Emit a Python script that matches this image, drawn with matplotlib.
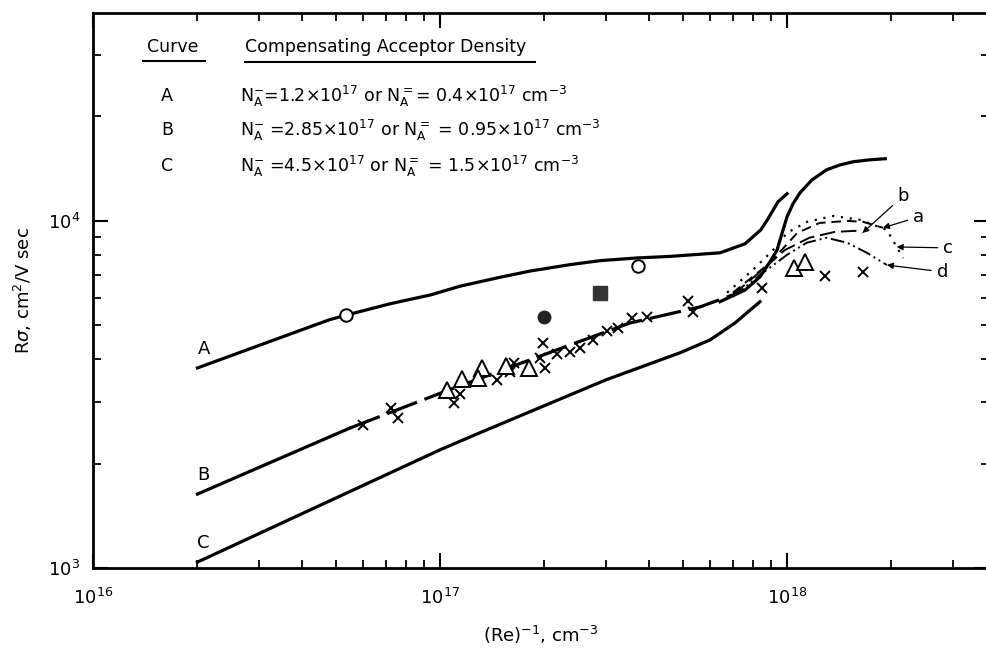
import numpy as np
import matplotlib
matplotlib.use('Agg')
import matplotlib.pyplot as plt

plt.rcParams['font.family'] = ['DejaVu Sans']
plt.rcParams['mathtext.fontset'] = 'dejavusans'

# curve A (solid)
A_x = [2.0e16, 4.8e16, 5.4e16, 7.18e16, 9.4e16, 1.14e17, 1.46e17, 1.82e17, 2.37e17, 2.89e17,
       3.7e17, 4.6e17, 6.41e17, 7.57e17, 8.4e17, 8.81e17, 9.42e17, 1.0e18]
A_y = [3770, 5190, 5360, 5770, 6120, 6480, 6850, 7170, 7480, 7680,
       7820, 7900, 8090, 8590, 9420, 10130, 11350, 11970]

# curve B, solid start then dashed
B_solid_x = [2.0e16, 5.5e16]
B_solid_y = [1633, 2530]
B_dash_x = [5.5e16, 1.02e17, 2.37e17, 3.53e17, 5.61e17, 6.98e17]
B_dash_y = [2530, 3210, 4390, 5080, 5650, 6120]

# curve C (solid)
C_x = [2.0e16, 1.0e17, 1.3e17, 3.0e17, 4.92e17, 6.0e17, 7.08e17, 8.36e17]
C_y = [1040, 2190, 2450, 3480, 4170, 4540, 5080, 5850]

# upper solid branch
S_x = [6.41e17, 7.57e17, 8.36e17, 8.93e17, 9.36e17, 9.68e17, 1.0e18, 1.04e18, 1.09e18,
       1.18e18, 1.30e18, 1.42e18, 1.55e18, 1.73e18, 1.92e18]
S_y = [5850, 6320, 6900, 7620, 8240, 9230, 10270, 11190, 12050,
       13120, 14030, 14490, 14800, 14990, 15100]

# high density curves a-d
a_x = [6.98e17, 8.93e17, 1.07e18, 1.24e18, 1.49e18, 1.66e18, 1.89e18]
a_y = [6210, 7570, 9230, 9860, 10000, 9930, 9550]
b_x = [6.98e17, 8.36e17, 9.86e17, 1.16e18, 1.37e18, 1.57e18, 1.65e18]
b_y = [6120, 7130, 8240, 8940, 9290, 9360, 9230]
c_x = [6.72e17, 7.98e17, 9.12e17, 1.0e18, 1.14e18, 1.36e18, 1.62e18, 1.94e18, 2.07e18, 2.16e18]
c_y = [6210, 7230, 8240, 9230, 9930, 10330, 10070, 9420, 8410, 7820]
d_x = [6.98e17, 8.36e17, 1.0e18, 1.14e18, 1.30e18, 1.49e18, 1.70e18, 1.94e18]
d_y = [6040, 6980, 7980, 8650, 8940, 8650, 8090, 7460]

# experimental points
open_circ_x = [5.36e16, 3.72e17]
open_circ_y = [5360, 7410]
filled_circ_x = [2.0e17]
filled_circ_y = [5280]
filled_sq_x = [2.89e17]
filled_sq_y = [6210]
tri_x = [1.05e17, 1.16e17, 1.32e17, 1.29e17, 1.55e17, 1.80e17, 1.05e18, 1.13e18]
tri_y = [3260, 3510, 3770, 3530, 3820, 3770, 7330, 7620]
cross_x = [6.0e16, 7.23e16, 7.57e16, 1.10e17, 1.14e17, 1.46e17, 1.59e17, 1.63e17,
           1.98e17, 1.94e17, 2.01e17, 2.17e17, 2.37e17, 2.53e17, 2.76e17, 3.03e17,
           3.26e17, 3.57e17, 3.95e17, 5.19e17, 5.36e17, 8.47e17, 1.29e18, 1.66e18]
cross_y = [2580, 2890, 2700, 2990, 3170, 3480, 3670, 3900,
           4450, 4030, 3770, 4140, 4190, 4300, 4540, 4820,
           4920, 5250, 5280, 5880, 5470, 6410, 6930, 7130]

fig = plt.figure(figsize=(9.87, 6.52), dpi=100)
ax = fig.add_axes([93/987, 84/652, 896/987, 555/652])
ax.set_xscale('log')
ax.set_yscale('log')
ax.set_xlim(1e16, 3.82e18)
ax.set_ylim(1e3, 3.97e4)

lw = 2.3
ax.plot(A_x, A_y, color='k', lw=lw, solid_joinstyle='round')
ax.plot(B_solid_x, B_solid_y, color='k', lw=lw)
ax.plot(B_dash_x, B_dash_y, color='k', lw=lw, dashes=(10, 2.5))
ax.plot(C_x, C_y, color='k', lw=lw, solid_joinstyle='round')
ax.plot(S_x, S_y, color='k', lw=lw, solid_joinstyle='round')
ax.plot(a_x, a_y, color='k', lw=1.4, dashes=(5, 3))
ax.plot(b_x, b_y, color='k', lw=1.4, dashes=(8, 3))
ax.plot(c_x, c_y, color='k', lw=1.6, dashes=(1, 3))
ax.plot(d_x, d_y, color='k', lw=1.4, dashes=(7, 2, 1, 2, 1, 2))

ax.plot(cross_x, cross_y, 'x', color='k', ms=7, mew=1.4, ls='none')
ax.plot(tri_x, tri_y, '^', mfc='white', mec='k', ms=11, mew=1.4, ls='none')
ax.plot(open_circ_x, open_circ_y, 'o', mfc='white', mec='k', ms=9, mew=1.4, ls='none')
ax.plot(filled_circ_x, filled_circ_y, 'o', color='#222222', ms=9, ls='none')
ax.plot(filled_sq_x, filled_sq_y, 's', color='#333333', ms=10, ls='none')

# curve letters at the start of each curve
for lab, xs, ys in [('A', A_x, A_y), ('B', B_solid_x, B_solid_y), ('C', C_x, C_y)]:
    ax.annotate(lab, (xs[0], ys[0]), xytext=(0, 7), textcoords='offset points',
                ha='left', va='bottom', fontsize=13)

# arrows for a-d
arrow = dict(arrowstyle='-|>', color='k', lw=0.9, mutation_scale=9, shrinkA=2, shrinkB=0)
ax.annotate('b', (b_x[-1], b_y[-1]), xytext=(2.08e18, 11800), fontsize=13,
            ha='left', va='center', arrowprops=arrow)
ax.annotate('a', (a_x[-1], a_y[-1]), xytext=(2.31e18, 10270), fontsize=13,
            ha='left', va='center', arrowprops=arrow)
ax.annotate('c', (c_x[-2], c_y[-2]), xytext=(2.82e18, 8360), fontsize=13,
            ha='left', va='center', arrowprops=arrow)
ax.annotate('d', (d_x[-1], d_y[-1]), xytext=(2.70e18, 7130), fontsize=13,
            ha='left', va='center', arrowprops=arrow)

# legend table
tr = ax.transAxes
ax.text(0.0893, 0.9387, 'Curve', transform=tr, ha='center', va='center', fontsize=12.5)
ax.plot([0.0558, 0.125], [0.9135, 0.9135], transform=tr, color='k', lw=1.5, clip_on=False)
ax.text(0.1696, 0.9387, 'Compensating Acceptor Density', transform=tr,
        ha='left', va='center', fontsize=12.5)
ax.plot([0.1696, 0.4933], [0.9117, 0.9117], transform=tr, color='k', lw=1.5, clip_on=False)

rows = ['A', 'B', 'C']
nm = r'N$_{\mathrm{A}}^{-}$'
nmm = r'N$_{\mathrm{A}}^{=}$'
row_text = [nm + '=1.2×10$^{17}$ or ' + nmm + '= 0.4×10$^{17}$ cm$^{-3}$',
            nm + ' =2.85×10$^{17}$ or ' + nmm + ' = 0.95×10$^{17}$ cm$^{-3}$',
            nm + ' =4.5×10$^{17}$ or ' + nmm + ' = 1.5×10$^{17}$ cm$^{-3}$']
row_y = [0.8505, 0.7892, 0.7243]
for r, t, y in zip(rows, row_text, row_y):
    ax.text(0.0826, y, r, transform=tr, ha='center', va='center', fontsize=12.5)
    ax.text(0.164, y, t, transform=tr, ha='left', va='center', fontsize=12.5)

ax.set_xlabel(r'(Re)$^{-1}$, cm$^{-3}$', fontsize=13, labelpad=12)
ax.set_ylabel(r'R$\sigma$, cm$^2$/V sec', fontsize=13, labelpad=10)

for s in ax.spines.values():
    s.set_linewidth(2.0)
ax.tick_params(which='both', direction='in', top=True, right=True, labelsize=13)
ax.tick_params(which='major', length=11, width=1.5)
ax.tick_params(which='minor', length=6, width=1.3)
ax.tick_params(axis='x', which='major', pad=14)
ax.tick_params(axis='y', which='major', pad=9)
ax.yaxis.set_minor_formatter(matplotlib.ticker.NullFormatter())
ax.xaxis.set_minor_formatter(matplotlib.ticker.NullFormatter())

fig.savefig('out.png', dpi=100)
